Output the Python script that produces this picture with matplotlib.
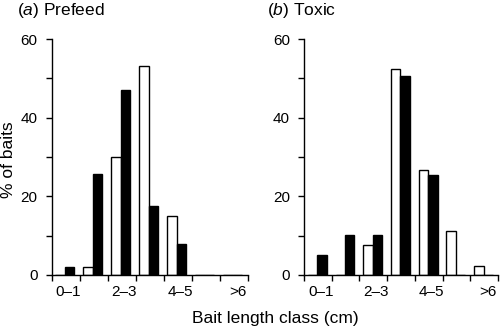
import matplotlib
matplotlib.use('Agg')
import matplotlib.pyplot as plt
import numpy as np

plt.rcParams.update({
    'font.family': ['Liberation Sans', 'DejaVu Sans'],
    'font.size': 11,
    'axes.linewidth': 1.0,
    'mathtext.fontset': 'custom',
    'mathtext.rm': 'Liberation Sans',
    'mathtext.it': 'Liberation Sans:italic',
})

classes = ['0\u20131', '1\u20132', '2\u20133', '3\u20134', '4\u20135', '5\u20136', '>6']
tick_labels = ['0\u20131', '2\u20133', '4\u20135', '>6']

prefeed_white = [0, 2.1, 30.0, 53.2, 14.9, 0, 0]
prefeed_black = [2.1, 25.7, 47.1, 17.6, 7.9, 0, 0]
toxic_white = [0, 0, 7.5, 52.5, 26.6, 11.2, 2.4]
toxic_black = [5.1, 10.2, 10.2, 50.5, 25.3, 0, 0]

panels = [
    ('a', 'Prefeed', prefeed_white, prefeed_black, [0.103, 0.1667, 0.392, 0.715], 17),
    ('b', 'Toxic', toxic_white, toxic_black, [0.608, 0.1667, 0.388, 0.715], 267),
]

fig = plt.figure(figsize=(5, 3.3), dpi=100)

x = np.arange(len(classes))
w = 0.34
for letter, name, white, black, rect, tx in panels:
    ax = fig.add_axes(rect)
    ax.bar(x + 0.14, white, w, align='edge', color='white', edgecolor='black', linewidth=1.0)
    ax.bar(x + 0.14 + w, black, w, align='edge', color='black', edgecolor='black', linewidth=1.0)
    ax.set_xlim(0, len(classes))
    ax.set_ylim(0, 60)
    for s in ['top', 'right']:
        ax.spines[s].set_visible(False)
    # ticks on class boundaries, labels at centres
    ax.set_xticks(np.arange(len(classes) + 1))
    ax.set_xticklabels([])
    ax.set_xticks([0.6, 2.6, 4.6, 6.65], minor=True)
    ax.set_xticklabels(tick_labels, minor=True, fontsize=11)
    ax.tick_params(axis='x', which='major', direction='out', length=4, width=1.0)
    ax.tick_params(axis='x', which='minor', length=0, pad=7)
    ax.set_yticks([0, 20, 40, 60])
    ax.set_yticks([10, 30, 50], minor=True)
    ax.tick_params(axis='y', which='both', direction='out', length=4, width=1.0, labelsize=11, pad=6)
    fig.text(tx / 500, 1 - 11 / 330, r'($\mathit{' + letter + r'}$) ' + name,
             fontsize=12.5, va='center', ha='left')

fig.text(9 / 500, 1 - 160 / 330, '% of baits', rotation=90, fontsize=12.5,
         va='center', ha='center')
fig.text(275 / 500, 1 - 318 / 330, 'Bait length class (cm)', fontsize=12.5,
         va='center', ha='center')

fig.savefig('out.png', dpi=100)
